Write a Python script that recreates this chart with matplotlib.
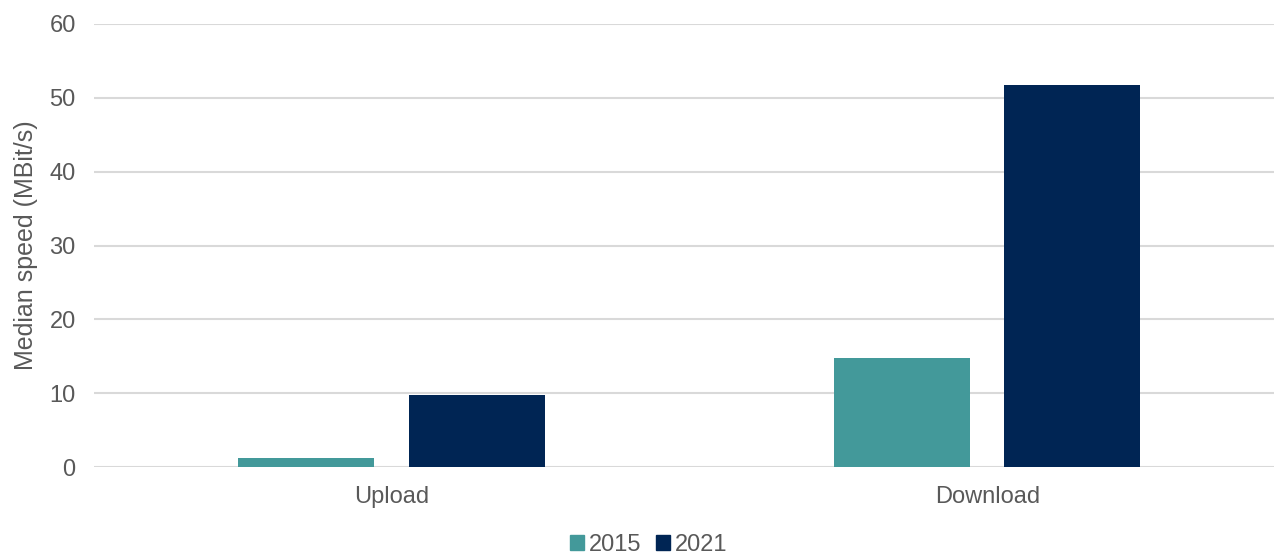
import numpy as np
import matplotlib.pyplot as plt
from matplotlib.patches import Patch

categories = ["Upload", "Download"]
years = ["2015", "2021"]
speed_2015 = [1.2, 14.8]
speed_2021 = [9.7, 51.7]
yticks = [0, 10, 20, 30, 40, 50, 60]

col_2015 = "#43999a"
col_2021 = "#002554"
txt = "#595959"

plt.rcParams['font.family'] = ['Liberation Sans', 'DejaVu Sans']

fig = plt.figure(figsize=(12.74, 5.56), dpi=100)
ax = fig.add_axes([93.75 / 1274, 89 / 556, (1274 - 93.75) / 1274, 443 / 556])

x = np.arange(len(categories))
w = 0.228
off = 0.143
ax.bar(x - off, speed_2015, w, color=col_2015, zorder=3)
ax.bar(x + off, speed_2021, w, color=col_2021, zorder=3)

ax.set_xlim(-0.5, 1.5 - 11 / 595.5)
ax.set_ylim(0, 60)
ax.set_yticks(yticks)
ax.set_xticks(x)
ax.set_xticklabels(categories)
ax.grid(axis='y', color='#d9d9d9', lw=1.5, zorder=0)
ax.tick_params(axis='both', length=0, labelsize=17, colors=txt)
ax.tick_params(axis='y', pad=13)
ax.tick_params(axis='x', pad=14)
for s in ax.spines.values():
    s.set_visible(False)
ax.set_ylabel("Median speed (MBit/s)", fontsize=18, color=txt, labelpad=8)

# legend sits right at the bottom edge
handles = [Patch(color=col_2015), Patch(color=col_2021)]
fig.legend(handles, years, loc='center', bbox_to_anchor=(0.509, 1 - 545 / 556),
           ncol=2, frameon=False, fontsize=17, labelcolor=txt,
           handlelength=0.6, handleheight=0.6, handletextpad=0.2, columnspacing=0.6,
           borderpad=0)

fig.savefig("out.png", dpi=100)
